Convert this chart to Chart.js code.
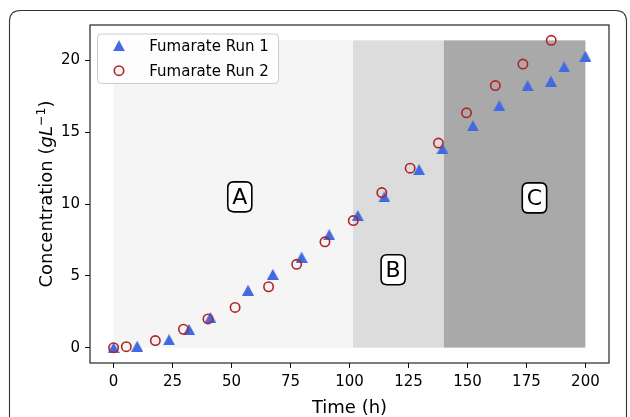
<!DOCTYPE html>
<html><head><meta charset="utf-8">
<script src="https://cdn.jsdelivr.net/npm/chart.js@4"></script>
<style>html,body{margin:0;padding:0;background:#fff;}canvas{display:block;}</style>
</head><body>
<canvas id="c" width="630" height="417"></canvas>
<script>
// ---- data ----
const run1Time = [0, 10, 23.5, 32, 41, 57, 67.5, 79.7, 91.4, 103.5, 114.8, 129.5, 139.4, 152.3, 163.5, 175.5, 185.4, 191, 200];
const run1Conc = [0, 0.1, 0.55, 1.26, 2.1, 4.0, 5.1, 6.3, 7.87, 9.2, 10.5, 12.4, 13.85, 15.45, 16.85, 18.25, 18.55, 19.55, 20.3];
const run2Time = [0, 5.4, 17.7, 29.6, 40, 51.5, 65.7, 77.6, 89.6, 101.6, 113.7, 125.7, 137.7, 149.6, 161.8, 173.5, 185.5];
const run2Conc = [0, 0.07, 0.49, 1.28, 2.0, 2.8, 4.24, 5.8, 7.37, 8.85, 10.8, 12.5, 14.25, 16.35, 18.25, 19.75, 21.4];
const seriesNames = ['Fumarate Run 1', 'Fumarate Run 2'];
const xTicks = [0, 25, 50, 75, 100, 125, 150, 175, 200];
const yTicks = [0, 5, 10, 15, 20];
const xRange = [-10, 210];
const yRange = [-1.07, 22.47];
const phaseNames = ['A', 'B', 'C'];
const phaseStart = [0, 101.5, 140];
const phaseEnd = [101.5, 140, 200];
const phaseTop = 21.4;
const phaseLabelX = [53.5, 118.5, 178.4];
const phaseLabelY = [10.5, 5.42, 10.43];

// ---- styles ----
const BLUE = '#4169e1', RED = '#b22222';
const phaseColors = ['#f5f5f5', '#dcdcdc', '#a9a9a9'];
const FONT = '"DejaVu Sans", Verdana, sans-serif';

function makeTriangle(w, h, color) {
  const c = document.createElement('canvas');
  c.width = w; c.height = h;
  const g = c.getContext('2d');
  g.fillStyle = color;
  g.beginPath(); g.moveTo(w / 2, 0); g.lineTo(w, h); g.lineTo(0, h); g.closePath(); g.fill();
  return c;
}
const triImg = makeTriangle(12, 11, BLUE);

function rrect(ctx, x, y, w, h, r) {
  ctx.beginPath();
  ctx.moveTo(x + r, y);
  ctx.lineTo(x + w - r, y); ctx.quadraticCurveTo(x + w, y, x + w, y + r);
  ctx.lineTo(x + w, y + h - r); ctx.quadraticCurveTo(x + w, y + h, x + w - r, y + h);
  ctx.lineTo(x + r, y + h); ctx.quadraticCurveTo(x, y + h, x, y + h - r);
  ctx.lineTo(x, y + r); ctx.quadraticCurveTo(x, y, x + r, y);
  ctx.closePath();
}

const decor = {
  id: 'decor',
  beforeDraw(chart) {
    const ctx = chart.ctx;
    ctx.save();
    ctx.fillStyle = '#fff'; ctx.fillRect(0, 0, chart.width, chart.height);
    ctx.strokeStyle = '#333'; ctx.lineWidth = 1.1;
    rrect(ctx, 9.5, 10.5, 617, 460, 11);
    ctx.stroke();
    ctx.restore();
  },
  beforeDatasetsDraw(chart) {
    const ctx = chart.ctx, xs = chart.scales.x, ys = chart.scales.y;
    ctx.save();
    for (let i = 0; i < phaseNames.length; i++) {
      const x0 = xs.getPixelForValue(phaseStart[i]), x1 = xs.getPixelForValue(phaseEnd[i]);
      const y0 = ys.getPixelForValue(0), y1 = ys.getPixelForValue(phaseTop);
      ctx.fillStyle = phaseColors[i];
      ctx.fillRect(x0, y1, x1 - x0, y0 - y1);
    }
    ctx.restore();
  },
  afterDatasetsDraw(chart) {
    const ctx = chart.ctx, xs = chart.scales.x, ys = chart.scales.y, a = chart.chartArea;
    ctx.save();
    // phase labels
    ctx.font = '22px ' + FONT;
    ctx.textAlign = 'center'; ctx.textBaseline = 'middle';
    for (let i = 0; i < phaseNames.length; i++) {
      const cx = xs.getPixelForValue(phaseLabelX[i]), cy = ys.getPixelForValue(phaseLabelY[i]);
      const w = ctx.measureText(phaseNames[i]).width + 9, h = 30;
      rrect(ctx, cx - w / 2, cy - h / 2, w, h, 6);
      ctx.fillStyle = '#fff'; ctx.fill();
      ctx.strokeStyle = '#000'; ctx.lineWidth = 1.6; ctx.stroke();
      ctx.fillStyle = '#000';
      ctx.fillText(phaseNames[i], cx, cy + 1);
    }
    // spines
    ctx.strokeStyle = '#111'; ctx.lineWidth = 1.1;
    ctx.strokeRect(a.left, a.top, a.right - a.left, a.bottom - a.top);
    // legend
    rrect(ctx, 97.5, 34, 181, 49.5, 4);
    ctx.fillStyle = 'rgba(255,255,255,0.8)'; ctx.fill();
    ctx.strokeStyle = '#cccccc'; ctx.lineWidth = 1; ctx.stroke();
    ctx.drawImage(triImg, 119 - triImg.width / 2, 45.7 - triImg.height / 2);
    ctx.beginPath(); ctx.arc(119, 70.7, 4.7, 0, Math.PI * 2);
    ctx.strokeStyle = RED; ctx.lineWidth = 1.6; ctx.stroke();
    ctx.fillStyle = '#000'; ctx.font = '15px ' + FONT;
    ctx.textAlign = 'left'; ctx.textBaseline = 'alphabetic';
    ctx.fillText(seriesNames[0], 149.3, 51);
    ctx.fillText(seriesNames[1], 149.3, 76);
    // x title
    ctx.font = '18px ' + FONT; ctx.textAlign = 'center';
    ctx.fillText('Time (h)', (a.left + a.right) / 2, 413);
    // y title with math
    const parts = [
      { t: 'Concentration (', f: '18px ' + FONT, dy: 0 },
      { t: 'gL', f: 'italic 18px ' + FONT, dy: 0 },
      { t: '\u22121', f: '12.6px ' + FONT, dy: -7.5 },
      { t: ')', f: '18px ' + FONT, dy: 0 }
    ];
    let total = 0;
    parts.forEach(p => { ctx.font = p.f; p.w = ctx.measureText(p.t).width; total += p.w; });
    ctx.translate(52, (a.top + a.bottom) / 2);
    ctx.rotate(-Math.PI / 2);
    ctx.textAlign = 'left';
    let x = -total / 2;
    parts.forEach(p => { ctx.font = p.f; ctx.fillText(p.t, x, p.dy); x += p.w; });
    ctx.restore();
  }
};

const toPts = (xs, ys) => xs.map((v, i) => ({ x: v, y: ys[i] }));

new Chart(document.getElementById('c'), {
  type: 'scatter',
  data: {
    datasets: [
      { label: seriesNames[0], data: toPts(run1Time, run1Conc), pointStyle: triImg, pointRadius: 6, order: 2 },
      { label: seriesNames[1], data: toPts(run2Time, run2Conc), pointStyle: 'circle', pointRadius: 4.7,
        borderColor: RED, backgroundColor: 'rgba(0,0,0,0)', borderWidth: 1.6, order: 1 }
    ]
  },
  options: {
    responsive: false, animation: false, devicePixelRatio: 1,
    layout: { padding: { left: 0, top: 25, right: 21, bottom: 0 } },
    plugins: { legend: { display: false }, tooltip: { enabled: false } },
    scales: {
      x: {
        type: 'linear', min: xRange[0], max: xRange[1],
        afterBuildTicks: s => { s.ticks = xTicks.map(v => ({ value: v })); },
        afterFit: s => { s.height = 54; },
        grid: { drawOnChartArea: false, drawTicks: true, tickLength: 5, tickColor: '#111', tickWidth: 1 },
        border: { display: false },
        ticks: { font: { family: FONT, size: 15 }, color: '#000', padding: 5, maxRotation: 0, autoSkip: false }
      },
      y: {
        type: 'linear', min: yRange[0], max: yRange[1],
        afterBuildTicks: s => { s.ticks = yTicks.map(v => ({ value: v })); },
        afterFit: s => { s.width = 90; },
        grid: { drawOnChartArea: false, drawTicks: true, tickLength: 5, tickColor: '#111', tickWidth: 1 },
        border: { display: false },
        ticks: { font: { family: FONT, size: 15 }, color: '#000', padding: 5, autoSkip: false }
      }
    }
  },
  plugins: [decor]
});
</script>
</body></html>
